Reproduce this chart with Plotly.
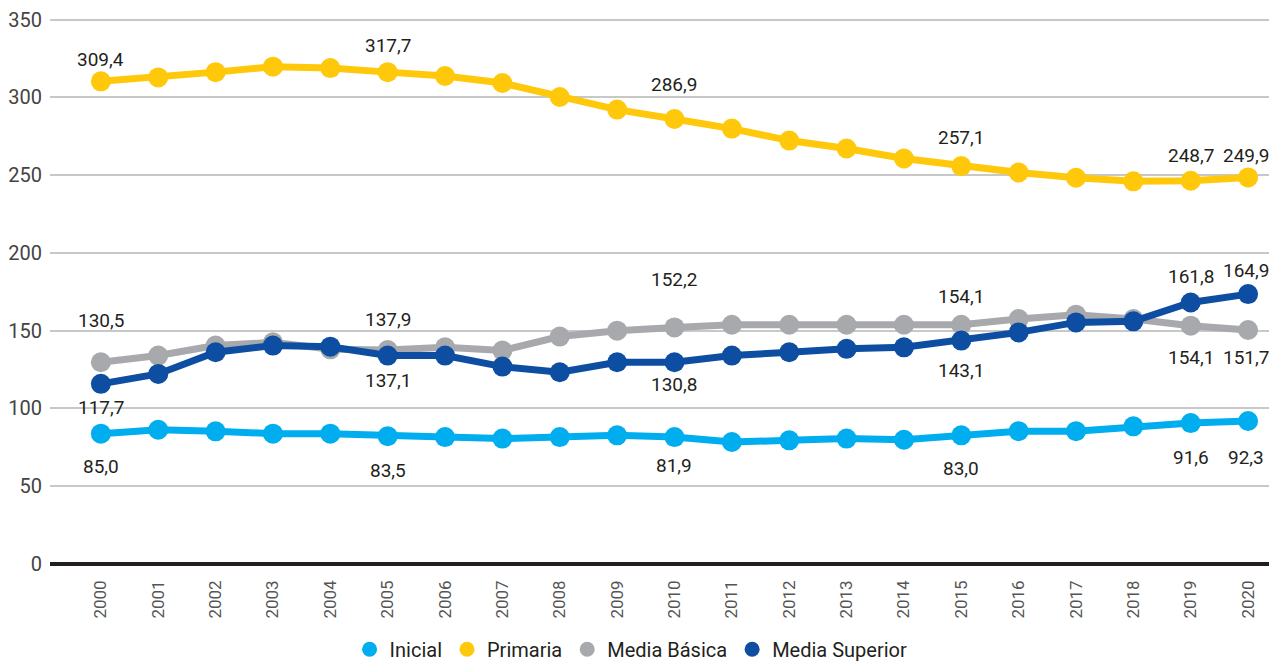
import plotly.graph_objects as go

years = list(range(2000, 2021))

inicial = [83.8, 86.3, 85.3, 83.8, 83.8, 82.2, 81.6, 80.6, 81.6, 82.7, 81.6,
           78.4, 79.5, 80.6, 79.9, 82.7, 85.4, 85.4, 88.5, 90.6, 91.9]
primaria = [310.3, 312.8, 316.2, 319.7, 318.8, 316.2, 313.7, 309.2, 300.2, 292.1, 286.1,
            279.9, 272.2, 267.1, 260.7, 255.8, 251.7, 248.3, 246.0, 246.4, 248.5]
media_basica = [129.7, 134.0, 140.4, 142.5, 138.0, 137.6, 139.3, 137.2, 146.2, 150.0, 152.1,
                153.8, 153.8, 153.8, 153.8, 153.8, 157.5, 160.3, 157.5, 153.2, 150.4]
media_superior = [115.8, 122.2, 136.1, 140.4, 139.7, 134.0, 134.0, 126.9, 123.3, 129.7, 129.7,
                  134.0, 136.1, 138.3, 139.3, 143.6, 148.9, 155.3, 156.0, 168.1, 173.5]

series_names = ["Inicial", "Primaria", "Media Básica", "Media Superior"]
series_values = [inicial, primaria, media_basica, media_superior]
colors = ["#00AEEF", "#FFC80B", "#A7A9AC", "#0D4EA2"]

# data labels (year, text)
label_years = [2000, 2005, 2010, 2015, 2019, 2020]
inicial_labels = ["85,0", "83,5", "81,9", "83,0", "91,6", "92,3"]
primaria_labels = ["309,4", "317,7", "286,9", "257,1", "248,7", "249,9"]
media_basica_labels = ["130,5", "137,9", "152,2", "154,1", "154,1", "151,7"]
media_superior_labels = ["117,7", "137,1", "130,8", "143,1", "161,8", "164,9"]
series_labels = [inicial_labels, primaria_labels, media_basica_labels, media_superior_labels]
# vertical pixel offsets of labels from their points (style)
label_shifts = [
    [-33, -34, -28, -33, -34, -36],
    [22, 27, 34, 29, 25, 22],
    [42, 30, 48, 28, -32, -27],
    [-24, -25, -22, -30, 26, 24],
]
label_xshifts = [0, 0, 0, 0, 0, -2]

y_ticks = [0, 50, 100, 150, 200, 250, 300, 350]

FONT = "Roboto, sans-serif"

fig = go.Figure()

for name, vals, col in zip(series_names, series_values, colors):
    fig.add_trace(go.Scatter(
        x=years, y=vals, mode="lines+markers", name=name,
        line=dict(color=col, width=7),
        marker=dict(color=col, size=20),
        showlegend=False, hoverinfo="skip",
    ))

for name, col in zip(series_names, colors):
    fig.add_trace(go.Scatter(
        x=[None], y=[None], mode="markers", name=name,
        marker=dict(color=col, size=15), showlegend=True,
    ))

annotations = []
for vals, labs, shifts in zip(series_values, series_labels, label_shifts):
    for yr, txt, sh, xs in zip(label_years, labs, shifts, label_xshifts):
        annotations.append(dict(
            x=yr, y=vals[years.index(yr)], text=txt, showarrow=False,
            yshift=sh, xshift=xs, xanchor="center", yanchor="middle",
            font=dict(family=FONT, size=19, color="#231F20"),
        ))

fig.update_layout(
    width=1269, height=655,
    margin=dict(l=39, r=0, t=8, b=99),
    paper_bgcolor="white", plot_bgcolor="white",
    font=dict(family=FONT),
    annotations=annotations,
    showlegend=True,
    legend=dict(
        orientation="h", xref="container", yref="container",
        x=0.491, y=0.021, xanchor="center", yanchor="middle",
        font=dict(family=FONT, size=20, color="#231F20"),
        itemclick=False, itemdoubleclick=False,
    ),
    xaxis=dict(
        range=[1999.113, 2020.504],
        tickmode="array", tickvals=years, ticktext=[str(y) for y in years],
        tickangle=-90, showgrid=False, zeroline=False, showline=False,
        ticks="", ticklabelstandoff=12,
        tickfont=dict(family=FONT, size=17, color="#555555"),
    ),
    yaxis=dict(
        range=[0, 351], tickmode="array", tickvals=y_ticks,
        showgrid=True, gridcolor="#C8C8C8", gridwidth=2,
        zeroline=True, zerolinecolor="#231F20", zerolinewidth=4,
        showline=False, ticks="", ticklabelstandoff=7,
        ticklabeloverflow="allow",
        tickfont=dict(family=FONT, size=20, color="#444444"),
    ),
)

fig.write_html("out.html")
